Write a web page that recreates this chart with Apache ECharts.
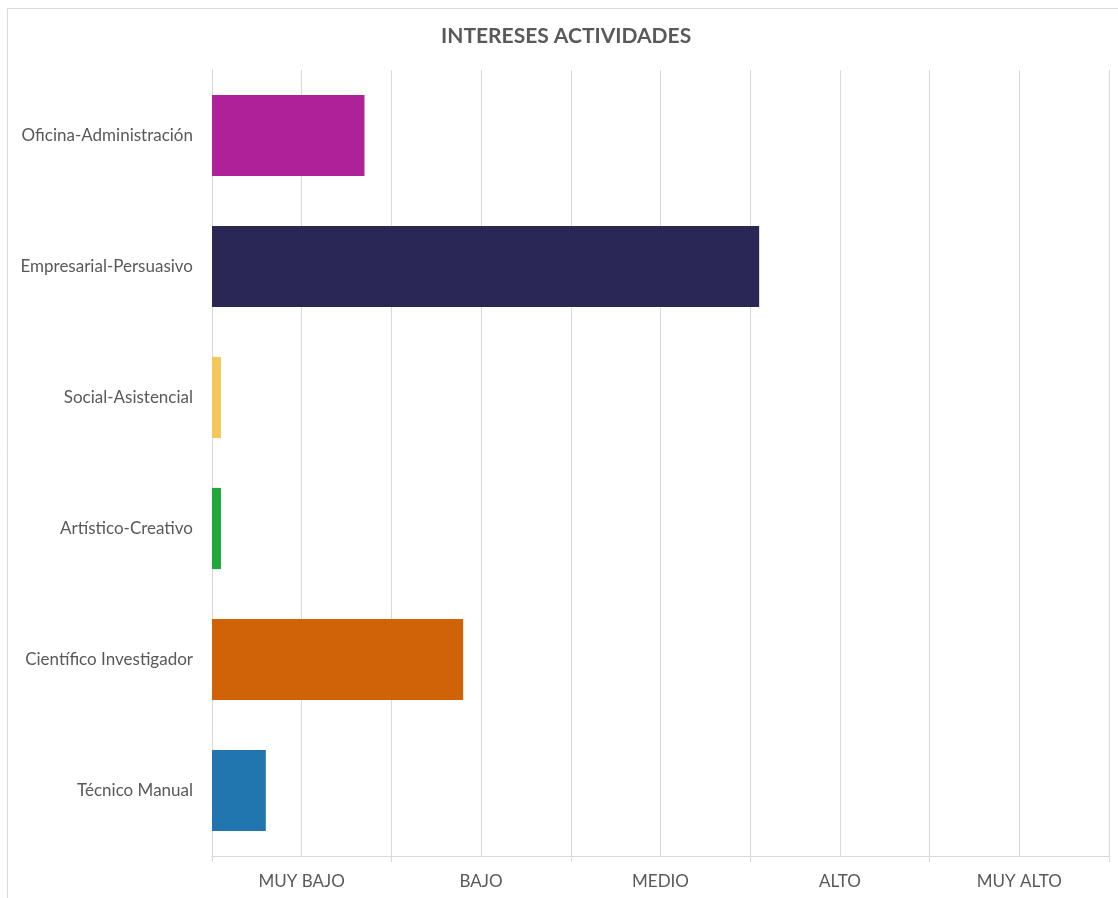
<!DOCTYPE html>
<html><head><meta charset="utf-8">
<script src="https://cdn.jsdelivr.net/npm/echarts@6/dist/echarts.min.js"></script>
<style>html,body{margin:0;padding:0;background:#fff}#c{width:1118px;height:898px}</style>
</head><body><div id="c"></div>
<script>
const categories = ['Oficina-Administración','Empresarial-Persuasivo','Social-Asistencial','Artístico-Creativo','Científico Investigador','Técnico Manual'];
const values = [17, 61, 1, 1, 28, 6];
const colors = ['#AE2199','#2A2755','#F2C85B','#22A838','#D06208','#2276B0'];
const tickLabels = {10:'MUY BAJO',30:'BAJO',50:'MEDIO',70:'ALTO',90:'MUY ALTO'};
const chart = echarts.init(document.getElementById('c'));
const font = 'Lato, "Open Sans", sans-serif';
chart.setOption({
  animation:false,
  graphic:[{type:'rect',shape:{x:7.5,y:8.5,width:1130,height:900},style:{fill:'none',stroke:'#d9d9d9',lineWidth:1},z:-1}],
  title:{text:'INTERESES ACTIVIDADES',left:441,top:26,padding:0,textStyle:{fontFamily:font,fontSize:21,fontWeight:'bold',color:'#595959'}},
  grid:{left:212,right:9,top:70,bottom:42},
  xAxis:[{type:'value',min:0,max:100,interval:10,
    splitLine:{show:true,lineStyle:{color:'#d9d9d9',width:1}},
    axisLine:{show:true,lineStyle:{color:'#d9d9d9'}},
    axisTick:{show:false},
    axisLabel:{formatter:v=>tickLabels[v]||'',color:'#595959',fontFamily:font,fontSize:17,margin:17,showMinLabel:true,showMaxLabel:true}},
   {type:'value',min:0,max:100,interval:20,position:'bottom',
    splitLine:{show:false},axisLine:{show:false},
    axisTick:{show:true,length:6,lineStyle:{color:'#d9d9d9'}},axisLabel:{show:false}}],
  yAxis:{type:'category',data:categories,inverse:true,
    axisLine:{show:true,lineStyle:{color:'#d9d9d9'}},axisTick:{show:false},
    axisLabel:{color:'#595959',fontFamily:font,fontSize:17,margin:19}},
  series:[{type:'bar',data:values.map((v,i)=>({value:v,itemStyle:{color:colors[i]}})),barWidth:'62%'}]
});
</script></body></html>
